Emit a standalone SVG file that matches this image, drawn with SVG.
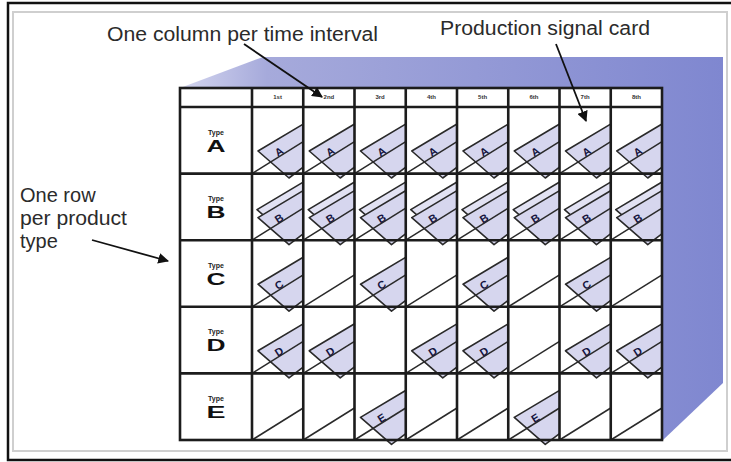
<svg xmlns="http://www.w3.org/2000/svg" xmlns:xlink="http://www.w3.org/1999/xlink" width="731" height="462" viewBox="0 0 731 462">
  <style>
    .note { font-family: "Liberation Sans", Arial, sans-serif; font-size: 20px; fill: #2b2b2b; }
    .hdr { font-family: "Liberation Sans", Arial, sans-serif; font-size: 6px; font-weight: bold; fill: #333; text-anchor: middle; }
    .type { font-family: "Liberation Sans", Arial, sans-serif; font-size: 7px; font-weight: bold; fill: #222; text-anchor: middle; }
    .big { font-family: "Liberation Sans", Arial, sans-serif; font-size: 17px; font-weight: bold; fill: #111; }
    .grid { stroke: #1c1c1c; stroke-width: 2.6; fill: none; }
    .pocket { stroke: #2a2a2a; stroke-width: 1.5; }
    .card { fill: #d6d6ee; stroke: #2a2a2a; stroke-width: 1.6; stroke-linejoin: round; }
    .back { fill: #e2e2f3; stroke: #2a2a2a; stroke-width: 1.6; stroke-linejoin: round; }
    .lt { font-family: "Liberation Sans", Arial, sans-serif; font-size: 11px; font-weight: bold; fill: #15153f; text-anchor: middle; }
    .arrow { stroke: #111; stroke-width: 1.8; fill: none; marker-end: url(#head); }
  </style>
  <defs>
    <linearGradient id="boxShade" x1="180" y1="0" x2="723" y2="0" gradientUnits="userSpaceOnUse">
      <stop offset="0" stop-color="#d4d6ef"/>
      <stop offset="0.16" stop-color="#a6aadb"/>
      <stop offset="1" stop-color="#7f87d0"/>
    </linearGradient>
    <marker id="head" viewBox="0 0 10 10" refX="9" refY="5" markerWidth="6" markerHeight="6" orient="auto" markerUnits="strokeWidth">
      <path d="M0,0 L10,5 L0,10 Z" fill="#111"/>
    </marker>
    <!-- cards are cut off at the right edge of their cell -->
    <clipPath id="cellclip" clipPathUnits="userSpaceOnUse">
      <rect x="-10" y="-20" width="61.25" height="100"/>
    </clipPath>
    <!-- signal card, cell-relative -->
    <polygon id="card" class="card" points="6,44 58,13 62,52 37,71"/>
    <polygon id="backcard" class="back" points="5,36 57,5 61,44 36,63"/>
    <!-- pocket edge running from the lower-left corner of a cell -->
    <line id="pocket" class="pocket" x1="0" y1="66.6" x2="51.25" y2="34.6"/>
    <g id="slot"><use xlink:href="#card" clip-path="url(#cellclip)"/><use xlink:href="#pocket"/></g>
    <g id="slot2"><use xlink:href="#backcard" clip-path="url(#cellclip)"/><use xlink:href="#card" clip-path="url(#cellclip)"/><use xlink:href="#pocket"/></g>
  </defs>

  <!-- page frame -->
  <rect x="0" y="0" width="731" height="462" fill="#ffffff"/>
  <rect x="13" y="12" width="714" height="439" fill="none" stroke="#cfcfcf" stroke-width="2"/>
  <path d="M731,3 H8 V460 H731" fill="none" stroke="#111" stroke-width="2.5"/>

  <!-- shaded board box behind the grid -->
  <polygon points="180,88 263,57 723,57 723,383 663,440 180,440" fill="url(#boxShade)"/>

  <!-- board background -->
  <rect x="180" y="88" width="482" height="352" fill="#ffffff"/>

  <!-- row labels -->
  <g id="label-a"><text class="type" x="216" y="135">Type</text><text class="big" x="206.5" y="152" textLength="19" lengthAdjust="spacingAndGlyphs">A</text></g>
  <g id="label-b"><text class="type" x="216" y="201">Type</text><text class="big" x="206.5" y="218" textLength="19" lengthAdjust="spacingAndGlyphs">B</text></g>
  <g id="label-c"><text class="type" x="216" y="268">Type</text><text class="big" x="206.5" y="285" textLength="19" lengthAdjust="spacingAndGlyphs">C</text></g>
  <g id="label-d"><text class="type" x="216" y="334">Type</text><text class="big" x="206.5" y="351" textLength="19" lengthAdjust="spacingAndGlyphs">D</text></g>
  <g id="label-e"><text class="type" x="216" y="401">Type</text><text class="big" x="206.5" y="418" textLength="19" lengthAdjust="spacingAndGlyphs">E</text></g>

  <!-- column headings -->
  <g id="headings">
    <text class="hdr" x="277.6" y="99">1st</text>
    <text class="hdr" x="328.9" y="99">2nd</text>
    <text class="hdr" x="380.1" y="99">3rd</text>
    <text class="hdr" x="431.4" y="99">4th</text>
    <text class="hdr" x="482.6" y="99">5th</text>
    <text class="hdr" x="533.9" y="99">6th</text>
    <text class="hdr" x="585.1" y="99">7th</text>
    <text class="hdr" x="636.4" y="99">8th</text>
  </g>

  <!-- row A: a card in every interval -->
  <g id="row-a">
    <g transform="translate(252,107)"><use xlink:href="#slot"/><text class="lt" transform="translate(29,48) rotate(-32)">A</text></g>
    <g transform="translate(303.25,107)"><use xlink:href="#slot"/><text class="lt" transform="translate(29,48) rotate(-32)">A</text></g>
    <g transform="translate(354.5,107)"><use xlink:href="#slot"/><text class="lt" transform="translate(29,48) rotate(-32)">A</text></g>
    <g transform="translate(405.75,107)"><use xlink:href="#slot"/><text class="lt" transform="translate(29,48) rotate(-32)">A</text></g>
    <g transform="translate(457,107)"><use xlink:href="#slot"/><text class="lt" transform="translate(29,48) rotate(-32)">A</text></g>
    <g transform="translate(508.25,107)"><use xlink:href="#slot"/><text class="lt" transform="translate(29,48) rotate(-32)">A</text></g>
    <g transform="translate(559.5,107)"><use xlink:href="#slot"/><text class="lt" transform="translate(29,48) rotate(-32)">A</text></g>
    <g transform="translate(610.75,107)"><use xlink:href="#slot"/><text class="lt" transform="translate(29,48) rotate(-32)">A</text></g>
  </g>

  <!-- row B: two stacked cards in every interval -->
  <g id="row-b">
    <g transform="translate(252,173.6)"><use xlink:href="#slot2"/><text class="lt" transform="translate(29,48) rotate(-32)">B</text></g>
    <g transform="translate(303.25,173.6)"><use xlink:href="#slot2"/><text class="lt" transform="translate(29,48) rotate(-32)">B</text></g>
    <g transform="translate(354.5,173.6)"><use xlink:href="#slot2"/><text class="lt" transform="translate(29,48) rotate(-32)">B</text></g>
    <g transform="translate(405.75,173.6)"><use xlink:href="#slot2"/><text class="lt" transform="translate(29,48) rotate(-32)">B</text></g>
    <g transform="translate(457,173.6)"><use xlink:href="#slot2"/><text class="lt" transform="translate(29,48) rotate(-32)">B</text></g>
    <g transform="translate(508.25,173.6)"><use xlink:href="#slot2"/><text class="lt" transform="translate(29,48) rotate(-32)">B</text></g>
    <g transform="translate(559.5,173.6)"><use xlink:href="#slot2"/><text class="lt" transform="translate(29,48) rotate(-32)">B</text></g>
    <g transform="translate(610.75,173.6)"><use xlink:href="#slot2"/><text class="lt" transform="translate(29,48) rotate(-32)">B</text></g>
  </g>

  <!-- row C: every other interval -->
  <g id="row-c">
    <g transform="translate(252,240.2)"><use xlink:href="#slot"/><text class="lt" transform="translate(29,48) rotate(-32)">C</text></g>
    <g transform="translate(303.25,240.2)"><use xlink:href="#pocket"/></g>
    <g transform="translate(354.5,240.2)"><use xlink:href="#slot"/><text class="lt" transform="translate(29,48) rotate(-32)">C</text></g>
    <g transform="translate(405.75,240.2)"><use xlink:href="#pocket"/></g>
    <g transform="translate(457,240.2)"><use xlink:href="#slot"/><text class="lt" transform="translate(29,48) rotate(-32)">C</text></g>
    <g transform="translate(508.25,240.2)"><use xlink:href="#pocket"/></g>
    <g transform="translate(559.5,240.2)"><use xlink:href="#slot"/><text class="lt" transform="translate(29,48) rotate(-32)">C</text></g>
    <g transform="translate(610.75,240.2)"><use xlink:href="#pocket"/></g>
  </g>

  <!-- row D -->
  <g id="row-d">
    <g transform="translate(252,306.8)"><use xlink:href="#slot"/><text class="lt" transform="translate(29,48) rotate(-32)">D</text></g>
    <g transform="translate(303.25,306.8)"><use xlink:href="#slot"/><text class="lt" transform="translate(29,48) rotate(-32)">D</text></g>
    <g transform="translate(405.75,306.8)"><use xlink:href="#slot"/><text class="lt" transform="translate(29,48) rotate(-32)">D</text></g>
    <g transform="translate(457,306.8)"><use xlink:href="#slot"/><text class="lt" transform="translate(29,48) rotate(-32)">D</text></g>
    <g transform="translate(508.25,306.8)"><use xlink:href="#pocket"/></g>
    <g transform="translate(559.5,306.8)"><use xlink:href="#slot"/><text class="lt" transform="translate(29,48) rotate(-32)">D</text></g>
    <g transform="translate(610.75,306.8)"><use xlink:href="#slot"/><text class="lt" transform="translate(29,48) rotate(-32)">D</text></g>
  </g>

  <!-- row E -->
  <g id="row-e">
    <g transform="translate(252,373.4)"><use xlink:href="#pocket"/></g>
    <g transform="translate(303.25,373.4)"><use xlink:href="#pocket"/></g>
    <g transform="translate(354.5,373.4)"><use xlink:href="#slot"/><text class="lt" transform="translate(29,48) rotate(-32)">E</text></g>
    <g transform="translate(405.75,373.4)"><use xlink:href="#pocket"/></g>
    <g transform="translate(457,373.4)"><use xlink:href="#pocket"/></g>
    <g transform="translate(508.25,373.4)"><use xlink:href="#slot"/><text class="lt" transform="translate(29,48) rotate(-32)">E</text></g>
    <g transform="translate(559.5,373.4)"><use xlink:href="#pocket"/></g>
    <g transform="translate(610.75,373.4)"><use xlink:href="#pocket"/></g>
  </g>

  <!-- grid lines -->
  <g id="grid" class="grid">
    <rect x="180" y="88" width="482" height="352"/>
    <path d="M180,107 H662 M180,173.6 H662 M180,240.2 H662 M180,306.8 H662 M180,373.4 H662"/>
    <path d="M252,88 V440 M303.25,88 V440 M354.5,88 V440 M405.75,88 V440 M457,88 V440 M508.25,88 V440 M559.5,88 V440 M610.75,88 V440"/>
  </g>

  <!-- callouts -->
  <g id="note-column"><text class="note" x="107" y="41" textLength="271" lengthAdjust="spacingAndGlyphs">One column per time interval</text></g>
  <g id="note-card"><text class="note" x="440" y="35" textLength="210" lengthAdjust="spacingAndGlyphs">Production signal card</text></g>
  <g id="note-row">
    <text class="note" x="20" y="202">One row</text>
    <text class="note" x="20" y="225" textLength="107" lengthAdjust="spacingAndGlyphs">per product</text>
    <text class="note" x="20" y="248">type</text>
  </g>

  <g id="connectors">
    <line class="arrow" x1="244" y1="44" x2="322" y2="97"/>
    <line class="arrow" x1="556" y1="44" x2="586" y2="121"/>
    <line class="arrow" x1="92" y1="240" x2="168" y2="261"/>
  </g>
</svg>
